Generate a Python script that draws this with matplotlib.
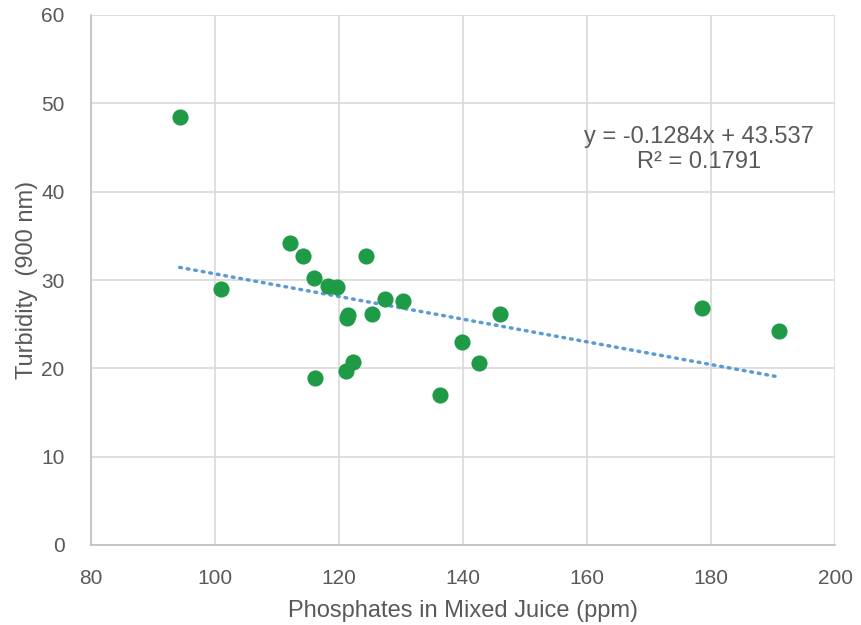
import numpy as np
import matplotlib.pyplot as plt

plt.rcParams['font.family'] = ['Liberation Sans', 'DejaVu Sans']

# dados
phosphates = [94.3, 100.9, 112.1, 114.2, 115.9, 116.1, 118.2, 119.7, 124.4,
              121.5, 121.3, 121.1, 122.3, 125.3, 127.4, 130.3, 136.3, 139.8,
              142.6, 146.0, 178.6, 190.9]
turbidity = [48.5, 29.0, 34.2, 32.7, 30.2, 18.9, 29.3, 29.2, 32.7,
             26.0, 25.7, 19.7, 20.7, 26.2, 27.8, 27.6, 17.0, 23.0,
             20.6, 26.1, 26.8, 24.2]

slope = -0.1284
intercept = 43.537
r2 = 0.1791

xticks = [80, 100, 120, 140, 160, 180, 200]
yticks = [0, 10, 20, 30, 40, 50, 60]

txt = '#595959'
grid = '#d9d9d9'

fig = plt.figure(figsize=(8.61, 6.25), dpi=100)
ax = fig.add_axes([0.1057, 0.128, 0.8643, 0.848])

# linha de tendencia
xt = np.array([min(phosphates), max(phosphates)])
ax.plot(xt, slope * xt + intercept, linestyle=(0, (0.5, 1.7)), color='#5b9bd5',
        linewidth=2.5, dash_capstyle='round', zorder=2)

ax.scatter(phosphates, turbidity, s=135, color='#1f9a46', zorder=3, linewidths=0)

ax.set_xlim(80, 200)
ax.set_ylim(0, 60)
ax.set_xticks(xticks)
ax.set_yticks(yticks)
ax.grid(True, color=grid, linewidth=1.2, zorder=0)
ax.set_axisbelow(True)
ax.tick_params(axis='x', length=0, labelsize=15, colors=txt, pad=17)
ax.tick_params(axis='y', length=0, labelsize=15, colors=txt, pad=19)

for s in ['top', 'right']:
    ax.spines[s].set_visible(False)
for s in ['left', 'bottom']:
    ax.spines[s].set_color('#bfbfbf')
    ax.spines[s].set_linewidth(1.2)

ax.set_xlabel('Phosphates in Mixed Juice (ppm)', fontsize=17, color=txt, labelpad=9)
ax.set_ylabel('Turbidity  (900 nm)', fontsize=17, color=txt, labelpad=2)

ax.text(178, 44.8, 'y = -0.1284x + 43.537\nR² = 0.1791', ha='center', va='center',
        fontsize=17, color=txt, linespacing=1.15)

fig.savefig('out.png', dpi=100)
